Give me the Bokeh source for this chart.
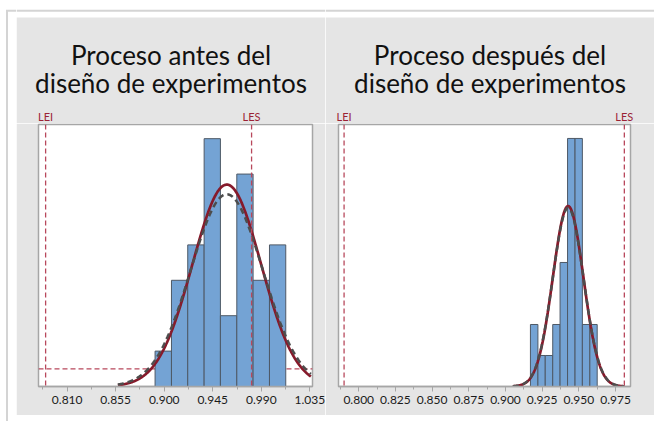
import numpy as np
from bokeh.plotting import figure
from bokeh.models import Range1d, FixedTicker, Span, PrintfTickFormatter, Spacer
from bokeh.layouts import row, column
from bokeh.embed import file_html
from bokeh.resources import INLINE
from bokeh.core.properties import value

# ---------------- data ----------------
title_before = ["Proceso antes del", "diseño de experimentos"]
title_after = ["Proceso después del", "diseño de experimentos"]

spec_labels = ["LEI", "LES"]
spec_limits = [0.790, 0.981]

before_edges = [0.8915, 0.9067, 0.9218, 0.9370, 0.9521, 0.9673, 0.9824, 0.9976, 1.0127]
before_counts = [1, 3, 4, 7, 2, 6, 3, 4]
before_mean = 0.958
before_sd_within = 0.0318
before_sd_overall = 0.0334
before_curve_span = [0.857, 1.036]
before_ticks = [0.810, 0.855, 0.900, 0.945, 0.990, 1.035]
before_minor = [0.7875, 0.8325, 0.8775, 0.9225, 0.9675, 1.0125]
before_xrange = [0.7834, 1.0375]
before_yrange = [0.0, 7.4]
before_hline = 0.5

after_edges = [0.9170, 0.9221, 0.9271, 0.9322, 0.9372, 0.9423, 0.9474, 0.9524, 0.9575, 0.9625]
after_counts = [2, 1, 1, 2, 4, 8, 8, 2, 2]
after_mean = 0.9427
after_sd_within = 0.0104
after_sd_overall = 0.0105
after_curve_span = [0.905, 0.981]
after_ticks = [0.800, 0.825, 0.850, 0.875, 0.900, 0.925, 0.950, 0.975]
after_minor = [0.7875, 0.8125, 0.8375, 0.8625, 0.8875, 0.9125, 0.9375, 0.9625]
after_xrange = [0.7862, 0.9852]
after_yrange = [0.0, 8.45]

# ---------------- styles ----------------
PANEL = "#e5e5e5"
BORDER = "#d4d4d4"
FRAME_LINE = "#a6a6a6"
BAR_FILL = "#74a3d4"
BAR_LINE = "#4e5966"
SOLID = "#861a2b"
DASHED = "#4d4d4d"
SPEC = "#b8485c"
SPEC_TEXT = "#9b2335"
FONT = "Lato"

STRIP_W = 16
HDR_H = 123
PLOT_H = 292
MB_TOP, MB_BOTTOM = 1, 29
BOTTOM_GAP = 6
TOP_WHITE = 17
LINE_Y = 10.25
LINE_X = 6.5
TITLE_BASELINES = [54, 82]


def normal_curve(mean, sd, nw, span):
    xs = np.linspace(span[0], span[1], 400)
    ys = nw / (sd * np.sqrt(2 * np.pi)) * np.exp(-0.5 * ((xs - mean) / sd) ** 2)
    return xs, ys


def bare(width, height, xr, yr, fill):
    f = figure(width=width, height=height, x_range=Range1d(*xr), y_range=Range1d(*yr),
               output_backend="svg", toolbar_location=None, x_axis_location=None,
               y_axis_location=None, min_border=0, outline_line_color=None,
               background_fill_color=fill, border_fill_color=fill)
    f.xgrid.visible = False
    f.ygrid.visible = False
    return f


def panel(width, mb_left, mb_right, xr, yr, edges, counts, mean, sdw, sdo, span,
          ticks, minor, title, hline=None):
    frame_w = width - mb_left - mb_right
    scale = (xr[1] - xr[0]) / frame_w
    hx = [xr[0] - mb_left * scale, xr[1] + mb_right * scale]

    # ---- header: white strip + border line, gray title area, spec labels
    h = bare(width, HDR_H, hx, [0, HDR_H], "white")
    h.quad(left=hx[0], right=hx[1], bottom=0, top=HDR_H - TOP_WHITE,
           fill_color=PANEL, line_color=None)
    h.line(hx, [HDR_H - LINE_Y, HDR_H - LINE_Y], line_color=BORDER, line_width=2)
    xc = (hx[0] + hx[1]) / 2
    h.text(x=[xc, xc], y=[HDR_H - b for b in TITLE_BASELINES], text=title,
           text_font=value(FONT), text_font_size="26px", text_align="center",
           text_baseline="alphabetic", text_color="#111111")
    h.text(x=spec_limits, y=[0.5, 0.5], text=spec_labels,
           text_font=value(FONT), text_font_size="11px", text_align="center",
           text_baseline="bottom", text_color=SPEC_TEXT)

    # ---- histogram panel
    p = figure(width=width, height=PLOT_H, x_range=Range1d(*xr), y_range=Range1d(*yr),
               output_backend="svg", toolbar_location=None, y_axis_location=None,
               min_border_left=mb_left, min_border_right=mb_right,
               min_border_top=MB_TOP, min_border_bottom=MB_BOTTOM,
               background_fill_color="white", border_fill_color=PANEL,
               outline_line_color=FRAME_LINE, outline_line_width=1.5)
    p.xgrid.visible = False
    p.ygrid.visible = False

    ax = p.xaxis[0]
    ax.ticker = FixedTicker(ticks=ticks, minor_ticks=minor)
    ax.formatter = PrintfTickFormatter(format="%.3f")
    ax.axis_line_color = FRAME_LINE
    ax.axis_line_width = 1.5
    ax.major_tick_line_color = FRAME_LINE
    ax.minor_tick_line_color = FRAME_LINE
    ax.major_tick_out = 5
    ax.major_tick_in = 0
    ax.minor_tick_out = 3
    ax.minor_tick_in = 0
    ax.major_label_text_font = FONT
    ax.major_label_text_font_size = "12px"
    ax.major_label_text_color = "#1a1a1a"
    ax.major_label_standoff = 4

    if hline is not None:
        p.add_layout(Span(location=hline, dimension="width", line_color=SPEC,
                          line_dash="5 3", line_width=1.3, level="underlay"))

    nw = sum(counts) * (edges[-1] - edges[0]) / len(counts)
    p.quad(left=edges[:-1], right=edges[1:], bottom=0, top=counts,
           fill_color=BAR_FILL, line_color=BAR_LINE, line_width=1)

    xs, ys = normal_curve(mean, sdw, nw, span)
    p.line(xs, ys, line_color=SOLID, line_width=2.7)
    xs, ys = normal_curve(mean, sdo, nw, span)
    p.line(xs, ys, line_color=DASHED, line_width=2.5, line_dash="6 4")

    for lim in spec_limits:
        p.add_layout(Span(location=lim, dimension="height", line_color=SPEC,
                          line_dash="5 3", line_width=1.3))
    return h, p


hL, pL = panel(309, 22, 13, before_xrange, before_yrange, before_edges, before_counts,
               before_mean, before_sd_within, before_sd_overall, before_curve_span,
               before_ticks, before_minor, title_before, hline=before_hline)
hR, pR = panel(329, 13, 24, after_xrange, after_yrange, after_edges, after_counts,
               after_mean, after_sd_within, after_sd_overall, after_curve_span,
               after_ticks, after_minor, title_after)

total_h = HDR_H + PLOT_H + BOTTOM_GAP
strip = bare(STRIP_W, total_h, [0, STRIP_W], [0, total_h], "white")
strip.line([LINE_X, LINE_X], [0, total_h - LINE_Y], line_color=BORDER, line_width=2)
strip.line([LINE_X - 1, STRIP_W], [total_h - LINE_Y, total_h - LINE_Y],
           line_color=BORDER, line_width=2)

layout = row(strip, column(row(hL, hR), row(pL, pR),
                           Spacer(width=638, height=BOTTOM_GAP)))

open("out.html", "w").write(file_html(layout, INLINE))
